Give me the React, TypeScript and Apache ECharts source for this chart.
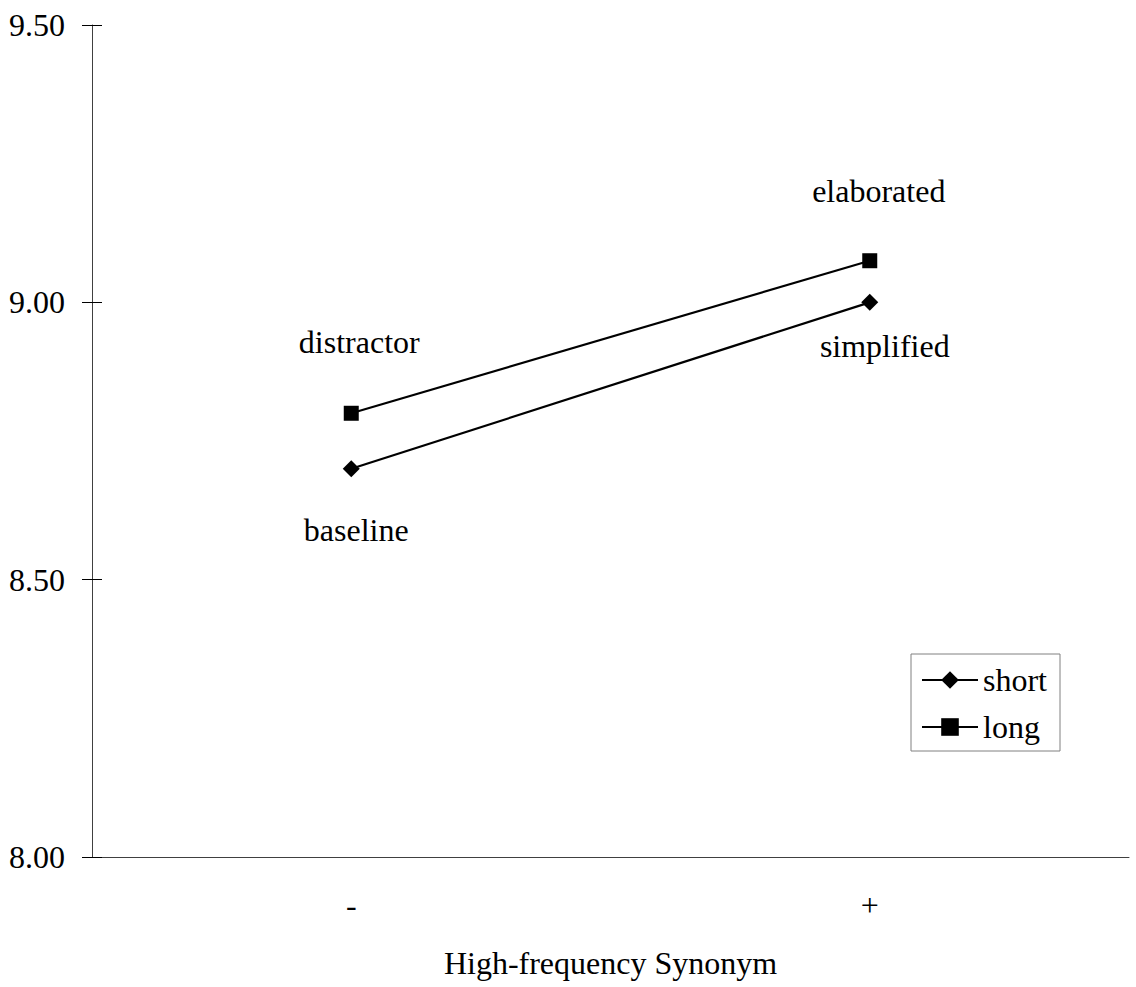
import React, { useEffect, useRef } from "react";
import * as echarts from "echarts";

const categories = ["-", "+"];
const shortValues = [8.7, 9.0];
const longValues = [8.8, 9.075];
const shortPointLabels = ["baseline", "simplified"];
const longPointLabels = ["distractor", "elaborated"];
const yTicks = { min: 8, max: 9.5, interval: 0.5 };

const FONT = "Times New Roman";

export default function App() {
  const ref = useRef<HTMLDivElement>(null);
  useEffect(() => {
    document.body.style.margin = "0";
    const chart = echarts.init(ref.current!, undefined, { renderer: "svg" });
    const labelOffsets = {
      short: [[5, 61], [15, 44]],
      long: [[8, -71], [9, -70]],
    };
    const mkData = (vals: number[], labels: string[], offs: number[][]) =>
      vals.map((v, i) => ({
        value: v,
        label: {
          show: true,
          formatter: labels[i],
          position: "inside",
          offset: offs[i],
          color: "#000",
          fontFamily: FONT,
          fontSize: 32,
        },
      }));
    chart.setOption({
      animation: false,
      backgroundColor: "#fff",
      textStyle: { fontFamily: FONT, color: "#000" },
      grid: { left: 92, right: 7, top: 25, bottom: 130, containLabel: false },
      legend: {
        orient: "vertical",
        left: 911,
        top: 654,
        data: ["short", "long"],
        itemWidth: 56,
        itemHeight: 22,
        itemGap: 15,
        itemTextGap: 8,
        padding: [10, 13, 8, 10],
        borderColor: "#808080",
        borderWidth: 1,
        textStyle: { fontFamily: FONT, fontSize: 32, color: "#000" },
      },
      xAxis: {
        type: "category",
        data: categories,
        boundaryGap: true,
        axisLine: { lineStyle: { color: "#404040", width: 1 } },
        axisTick: { inside: true, length: 10, lineStyle: { color: "#000" } },
        axisLabel: { margin: 32, fontFamily: FONT, fontSize: 32, color: "#000" },
        name: "High-frequency Synonym",
        nameLocation: "middle",
        nameGap: 90,
        nameTextStyle: { fontFamily: FONT, fontSize: 32, color: "#000" },
        splitLine: { show: false },
      },
      yAxis: [
        {
          type: "value",
          min: yTicks.min,
          max: yTicks.max,
          interval: yTicks.interval,
          axisLine: { show: true, lineStyle: { color: "#404040", width: 1 } },
          axisTick: { show: true, inside: false, length: 10, lineStyle: { color: "#000" } },
          axisLabel: {
            margin: 27,
            formatter: (v: number) => v.toFixed(2),
            fontFamily: FONT,
            fontSize: 32,
            color: "#000",
          },
          splitLine: { show: false },
        },
        {
          type: "value",
          position: "left",
          min: yTicks.min,
          max: yTicks.max,
          interval: yTicks.interval,
          axisLine: { show: false },
          axisTick: { show: true, inside: true, length: 10, lineStyle: { color: "#000" } },
          axisLabel: { show: false },
          splitLine: { show: false },
        },
      ],
      series: [
        {
          name: "short",
          type: "line",
          data: mkData(shortValues, shortPointLabels, labelOffsets.short),
          symbol: "diamond",
          symbolSize: 17,
          color: "#000",
          itemStyle: { color: "#000" },
          lineStyle: { color: "#000", width: 2.2 },
        },
        {
          name: "long",
          type: "line",
          data: mkData(longValues, longPointLabels, labelOffsets.long),
          symbol: "rect",
          symbolSize: 15,
          color: "#000",
          itemStyle: { color: "#000" },
          lineStyle: { color: "#000", width: 2.2 },
        },
      ],
    });
    return () => chart.dispose();
  }, []);
  return <div ref={ref} style={{ width: 1136, height: 987 }} />;
}
